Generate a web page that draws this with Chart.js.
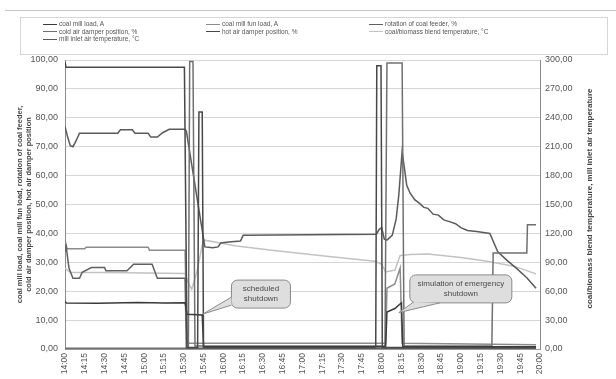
<!DOCTYPE html>
<html>
<head>
<meta charset="utf-8">
<script src="https://cdn.jsdelivr.net/npm/chart.js@4.4.1/dist/chart.umd.min.js"></script>
<style>
body { margin: 0; background: #fff; }
#wrap { position: relative; width: 616px; height: 379px; overflow: hidden; }
#topline { position: absolute; left: 5px; right: 0; top: 10px; border-top: 1px solid #c8c8c8; }
#legend { position: absolute; left: 20px; top: 17px; width: 586px; height: 36px; border: 1px solid #d6d6d6;
  font: 6.5px "Liberation Sans", Arial, sans-serif; color: #555; }
.item { position: absolute; height: 8px; line-height: 8px; white-space: nowrap; }
.item .ln { display: inline-block; width: 14px; height: 0; vertical-align: middle; margin-right: 2px; }
canvas { position: absolute; left: 0; top: 0; }
</style>
</head>
<body>
<div id="wrap">
  <div id="topline"></div>
  <canvas id="chart" width="616" height="379"></canvas>
  <div id="legend"></div>
</div>
<script>
// time = minutes after 14:00
const coalMillLoad = [[0,16.4],[1,15.9],[25,15.8],[55,16.1],[75,15.9],[91,16],[92.5,12],[104,11.8],[105,0.8],
  [243,0.8],[244,12.8],[250,14],[255,16],[256,0.8],[357,0.8]];
const coalMillFanLoad = [[0,34.6],[0.7,36.4],[1.5,34.7],[15,34.7],[16,35.2],[63,35.2],[64,34.2],[91,34.2],[92.5,2],
  [243,2],[244,21],[250,22.5],[254,28],[255.5,2],[357,1.5]];
const coalFeederRotation = [[0,34],[0.7,36.2],[3,28],[6,24.5],[11,24.5],[13,26.5],[20,28.2],[30,28.2],[31,27.1],
  [47,27.1],[52,29.3],[66,29.3],[70,24.5],[91,24.5],[92,0.3],[357,0.3]];
const coldAirDamper = [[0,0.3],[93.5,0.3],[94.5,99.5],[97,99.5],[98.5,1],[242.5,1],[244,99],[255.5,99],[257,1],
  [323.5,1],[324.5,33.2],[350,33.2],[350.5,43],[357,43]];
const hotAirDamper = [[0,99.3],[0.8,97.5],[90.5,97.5],[92.5,0.5],[100.5,0.5],[101.5,82],[104,82],[105,0.5],
  [235.5,0.5],[236.3,98],[239.5,98],[240.5,0.5],[357,0.5]];
const blendTemp = [[0,84],[4,79.5],[30,79.5],[60,79],[91,78.5],[93,70],[96,62],[100,80],[104,108],[106,113],
  [130,107],[160,102],[200,96],[235,91],[240,88],[243,80],[250,82],[254,97],[262,98],[275,98.5],[300,95],
  [320,91],[340,86],[357,78]];
const millInletTemp = [[0,231],[2,220],[4,211],[6,210],[8,215],[11,224],[40,224],[42,227.5],[51,227.5],[53,224],
  [63,224],[65,220],[70,220],[74,224.5],[79,228],[91,228],[92,226],[106,106],[112,105],[116,106],[118,110],
  [124,111],[133,112],[135,118],[236,119],[238,124],[240,126],[242,114],[244,113],[248,118],[251,135],[253,160],
  [255.5,205],[257,190],[259,170],[261.5,162],[265,155],[268,152],[272,147],[275,146],[279,140],[283,139],
  [287,134],[292,132],[296,130],[300,126],[305,123],[312,122],[322,120],[328,101],[335,92],[342,84],[350,74],[357,63]];

const leftTicks = [0, 100, 10];
const rightTicks = [0, 300, 30];
const leftAxisTitle = ['coal mill load, coal mill fun load, rotation of coal feeder,', 'cold air damper position, hot air damper position'];
const rightAxisTitle = 'coal/biomass blend temperature, mill inlet air temperature';

const series = [
  { label: 'coal mill load, A', data: coalMillLoad, color: '#3a3a3a', axis: 'y', col: 0, row: 0 },
  { label: 'coal mill fun load, A', data: coalMillFanLoad, color: '#8c8c8c', axis: 'y', col: 1, row: 0 },
  { label: 'rotation of coal feeder, %', data: coalFeederRotation, color: '#606060', axis: 'y', col: 2, row: 0 },
  { label: 'cold air damper position, %', data: coldAirDamper, color: '#707070', axis: 'y', col: 0, row: 1 },
  { label: 'hot air damper position, %', data: hotAirDamper, color: '#484848', axis: 'y', col: 1, row: 1 },
  { label: 'coal/biomass blend temperature, \u00b0C', data: blendTemp, color: '#c2c2c2', axis: 'y1', col: 2, row: 1 },
  { label: 'mill inlet air temperature, \u00b0C', data: millInletTemp, color: '#5a5a5a', axis: 'y1', col: 0, row: 2 }
];
const drawOrder = [2, 6, 3, 4, 1, 7, 5];

// callout boxes: centre and pointer tip in data units, wedge base as offsets from the box's left/top
const callouts = [
  { text: ['scheduled', 'shutdown'], at: [148.5, 19], w: 59, h: 28, to: [104.6, 12.1], base: [[0, 17], [0, 25]] },
  { text: ['simulation of emergency', 'shutdown'], at: [300, 20.8], w: 102, h: 28, to: [253, 12.6], base: [[4, 27], [30, 28]] }
];

const fmt2 = v => v.toFixed(2).replace('.', ',');
const fmtTime = m => (14 + Math.floor(m / 60)) + ':' + String(m % 60).padStart(2, '0');
const FONT = '"Liberation Sans", Arial, sans-serif';

// legend
const colX = [22, 185, 348], rowY = [2, 9.5, 17];
const leg = document.getElementById('legend');
series.forEach(s => {
  const d = document.createElement('div');
  d.className = 'item';
  d.style.left = colX[s.col] + 'px';
  d.style.top = rowY[s.row] + 'px';
  d.innerHTML = '<span class="ln" style="border-top:1.6px solid ' + s.color + '"></span>' + s.label;
  leg.appendChild(d);
});

const calloutPlugin = {
  id: 'callouts',
  afterDatasetsDraw(chart) {
    const { ctx, scales: { x, y } } = chart;
    callouts.forEach(c => {
      const cx = x.getPixelForValue(c.at[0]), cy = y.getPixelForValue(c.at[1]);
      const tx = x.getPixelForValue(c.to[0]), ty = y.getPixelForValue(c.to[1]);
      const l = cx - c.w / 2, t = cy - c.h / 2;
      const b1 = [l + c.base[0][0], t + c.base[0][1]];
      const b2 = [l + c.base[1][0], t + c.base[1][1]];
      const wedge = () => {
        ctx.beginPath();
        ctx.moveTo(b1[0], b1[1]);
        ctx.lineTo(tx, ty);
        ctx.lineTo(b2[0], b2[1]);
      };
      ctx.save();
      ctx.fillStyle = '#dedede';
      ctx.strokeStyle = '#8a8a8a';
      ctx.lineWidth = 1;
      ctx.beginPath();
      ctx.roundRect(l, t, c.w, c.h, 6);
      ctx.fill();
      ctx.stroke();
      wedge();
      ctx.closePath();
      ctx.fill();
      wedge();
      ctx.stroke();
      ctx.fillStyle = '#4a4a4a';
      ctx.font = '8px ' + FONT;
      ctx.textAlign = 'center';
      ctx.textBaseline = 'middle';
      ctx.fillText(c.text[0], cx, cy - 5);
      ctx.fillText(c.text[1], cx, cy + 5);
      ctx.restore();
    });
  }
};

const rightTitlePlugin = {
  id: 'rightTitle',
  afterDraw(chart) {
    const { ctx, chartArea: a } = chart;
    ctx.save();
    ctx.translate(590, (a.top + a.bottom) / 2 - 6);
    ctx.rotate(-Math.PI / 2);
    ctx.font = 'bold 8px ' + FONT;
    ctx.fillStyle = '#444';
    ctx.textAlign = 'center';
    ctx.textBaseline = 'middle';
    ctx.fillText(rightAxisTitle, 0, 0);
    ctx.restore();
  }
};

new Chart(document.getElementById('chart'), {
  type: 'line',
  data: {
    datasets: series.map((s, i) => ({
      label: s.label,
      data: s.data.map(p => ({ x: p[0], y: p[1] })),
      borderColor: s.color,
      borderWidth: 1.5,
      pointRadius: 0,
      tension: 0,
      yAxisID: s.axis,
      order: drawOrder[i]
    }))
  },
  options: {
    responsive: false,
    animation: false,
    devicePixelRatio: 1,
    layout: { padding: { top: 60, left: 0, right: 0, bottom: 0 } },
    plugins: { legend: { display: false }, tooltip: { enabled: false } },
    scales: {
      x: {
        type: 'linear', min: 0, max: 360,
        afterFit: s => { s.height = 30; },
        grid: { display: false, drawTicks: false },
        border: { color: '#9a9a9a' },
        ticks: { stepSize: 15, autoSkip: false, maxRotation: 90, minRotation: 90, padding: 4,
          color: '#555', font: { family: FONT, size: 8.5 }, callback: v => fmtTime(v) }
      },
      y: {
        position: 'left', min: leftTicks[0], max: leftTicks[1],
        afterFit: s => { s.width = 65; },
        grid: { color: '#d6d6d6', drawTicks: false },
        border: { color: '#8a8a8a' },
        ticks: { stepSize: leftTicks[2], padding: 7, color: '#555', font: { family: FONT, size: 9 }, callback: v => fmt2(v) },
        title: { display: true, text: leftAxisTitle, color: '#444', padding: { top: 15.3, bottom: 0 },
          font: { family: FONT, size: 7.5, weight: 'bold', lineHeight: 1.25 } }
      },
      y1: {
        position: 'right', min: rightTicks[0], max: rightTicks[1],
        afterFit: s => { s.width = 76; },
        grid: { drawOnChartArea: false, drawTicks: false },
        border: { color: '#8a8a8a' },
        ticks: { stepSize: rightTicks[2], padding: 5, color: '#555', font: { family: FONT, size: 9 }, callback: v => fmt2(v) }
      }
    }
  },
  plugins: [calloutPlugin, rightTitlePlugin]
});
</script>
</body>
</html>
